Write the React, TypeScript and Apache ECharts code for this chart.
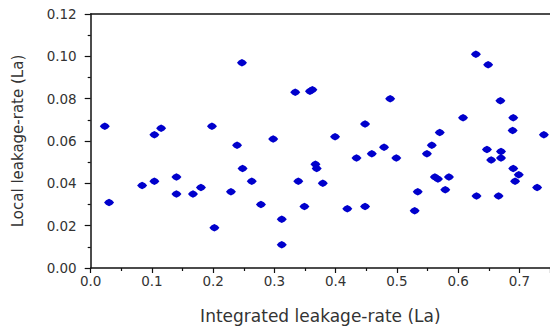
import React, { useEffect, useRef } from "react";
import * as echarts from "echarts";

const integratedRate: number[] = [
  0.023, 0.030, 0.084, 0.104, 0.104, 0.115, 0.140, 0.140, 0.167, 0.180,
  0.198, 0.202, 0.229, 0.239, 0.247, 0.248, 0.263, 0.278, 0.298, 0.312,
  0.312, 0.334, 0.339, 0.349, 0.358, 0.362, 0.367, 0.369, 0.379, 0.399,
  0.419, 0.434, 0.448, 0.448, 0.459, 0.479, 0.489, 0.499, 0.529, 0.534,
  0.549, 0.557, 0.562, 0.567, 0.570, 0.579, 0.585, 0.608, 0.629, 0.630,
  0.649, 0.647, 0.654, 0.666, 0.669, 0.670, 0.670, 0.689, 0.690, 0.690,
  0.699, 0.693, 0.729, 0.740,
];
const localRate: number[] = [
  0.067, 0.031, 0.039, 0.063, 0.041, 0.066, 0.043, 0.035, 0.035, 0.038,
  0.067, 0.019, 0.036, 0.058, 0.097, 0.047, 0.041, 0.030, 0.061, 0.023,
  0.011, 0.083, 0.041, 0.029, 0.0835, 0.0842, 0.049, 0.047, 0.040, 0.062,
  0.028, 0.052, 0.068, 0.029, 0.054, 0.057, 0.080, 0.052, 0.027, 0.036,
  0.054, 0.058, 0.043, 0.042, 0.064, 0.037, 0.043, 0.071, 0.101, 0.034,
  0.096, 0.056, 0.051, 0.034, 0.079, 0.055, 0.052, 0.065, 0.071, 0.047,
  0.044, 0.041, 0.038, 0.063,
];
const xTickLabels: string[] = ["0.0", "0.1", "0.2", "0.3", "0.4", "0.5", "0.6", "0.7"];
const yTickLabels: string[] = ["0.00", "0.02", "0.04", "0.06", "0.08", "0.10", "0.12"];

const xName = "Integrated leakage-rate (La)";
const yName = "Local leakage-rate (La)";

export default function App() {
  const ref = useRef<HTMLDivElement>(null);
  useEffect(() => {
    if (!ref.current) return;
    const chart = echarts.init(ref.current, null, { renderer: "svg" });
    const points = integratedRate.map((x, i) => [x, localRate[i]]);
    const font = "DejaVu Sans";
    chart.setOption({
      animation: false,
      backgroundColor: "#ffffff",
      grid: { left: 90.7, right: 0, top: 14, bottom: 53.3, containLabel: false },
      xAxis: [
        {
          type: "value",
          min: 0,
          max: 0.75,
          interval: 0.1,
          splitLine: { show: false },
          axisLine: { show: true, onZero: false, lineStyle: { color: "#111", width: 1.5 } },
          axisTick: { show: true, inside: false, length: 5, lineStyle: { color: "#111", width: 1.2 } },
          minorTick: { show: true, splitNumber: 2, length: 3, lineStyle: { color: "#111", width: 1.2 } },
          axisLabel: {
            margin: 6,
            color: "#333",
            fontFamily: font,
            fontSize: 13.5,
            showMaxLabel: false,
            formatter: (v: number) => xTickLabels[Math.round(v * 10)] ?? "",
          },
          name: xName,
          nameLocation: "middle",
          nameGap: 39,
          nameTextStyle: { color: "#333", fontFamily: font, fontSize: 17 },
        },
        {
          type: "value",
          position: "top",
          min: 0,
          max: 0.75,
          splitLine: { show: false },
          axisLine: { show: true, onZero: false, lineStyle: { color: "#111", width: 1.5 } },
          axisTick: { show: false },
          axisLabel: { show: false },
        },
      ],
      yAxis: {
        type: "value",
        min: 0,
        max: 0.12,
        interval: 0.02,
        splitLine: { show: false },
        axisLine: { show: true, onZero: false, lineStyle: { color: "#111", width: 1.5 } },
        axisTick: { show: true, inside: false, length: 6, lineStyle: { color: "#111", width: 1.2 } },
        minorTick: { show: true, splitNumber: 2, length: 3, lineStyle: { color: "#111", width: 1.2 } },
        axisLabel: {
          margin: 14,
          color: "#333",
          fontFamily: font,
          fontSize: 13.5,
          formatter: (v: number) => yTickLabels[Math.round(v / 0.02)] ?? "",
        },
        name: yName,
        nameLocation: "middle",
        nameGap: 65,
        nameTextStyle: { color: "#333", fontFamily: font, fontSize: 15 },
      },
      series: [
        {
          type: "scatter",
          xAxisIndex: 0,
          data: points,
          symbol: "path://M5,0 L8,1.4 L10,3.5 L8,5.6 L5,7 L2,5.6 L0,3.5 L2,1.4 Z",
          symbolSize: [10, 7.5],
          itemStyle: { color: "#0000cc", opacity: 1 },
        },
      ],
    });
    return () => chart.dispose();
  }, []);
  return (
    <div
      ref={ref}
      style={{ position: "fixed", left: 0, top: 0, width: 550, height: 329, background: "#fff" }}
    />
  );
}
